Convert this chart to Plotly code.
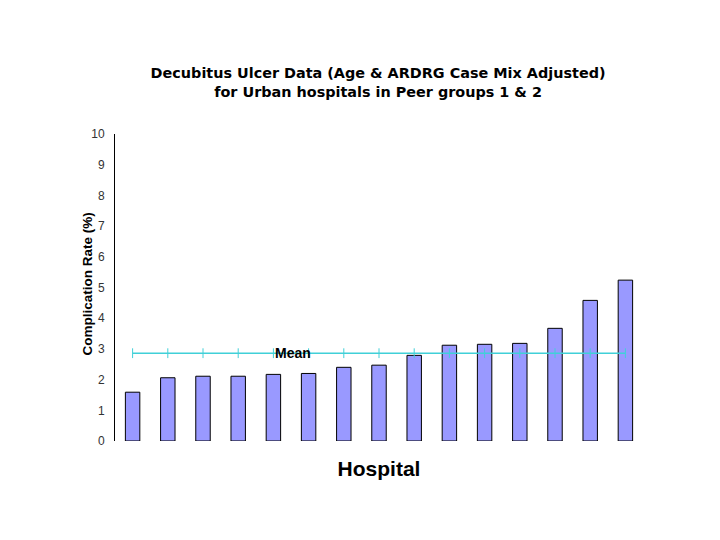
import plotly.graph_objects as go

# complication rate per hospital, sorted low to high
hospitals = list(range(1, 16))
rates = [1.59, 2.06, 2.11, 2.11, 2.17, 2.20, 2.40, 2.47, 2.79,
         3.12, 3.15, 3.18, 3.67, 4.58, 5.24]
mean_rate = 2.86
y_ticks = list(range(0, 11))

fig = go.Figure()
fig.add_trace(go.Bar(x=hospitals, y=rates, width=0.41,
                     marker=dict(color="#9999FF", line=dict(color="black", width=1))))
fig.add_trace(go.Scatter(x=hospitals, y=[mean_rate] * len(hospitals),
                         mode="lines+markers",
                         line=dict(color="#40D0D8", width=1.5),
                         marker=dict(symbol="line-ns-open", size=7,
                                     line=dict(color="#40D0D8", width=1))))

fig.add_annotation(x=5.55, y=mean_rate, text="<b>Mean</b>", showarrow=False,
                   font=dict(family="Liberation Sans", size=14, color="black"))

# y title placed by hand so it sits close to the tick labels
fig.add_annotation(xref="paper", yref="paper", x=-0.053, y=0.51, textangle=-90,
                   text="<b>Complication Rate (%)</b>", showarrow=False,
                   xanchor="center", yanchor="middle",
                   font=dict(family="Liberation Sans", size=13.5, color="black"))

fig.update_layout(
    width=720, height=540,
    margin=dict(l=107, r=85, t=126, b=107),
    plot_bgcolor="white", paper_bgcolor="white",
    showlegend=False,
    title=dict(text="<b>Decubitus Ulcer Data (Age & ARDRG Case Mix Adjusted)<br>for Urban hospitals in Peer groups 1 & 2</b>",
               x=0.514, xanchor="center", y=0.8706, yanchor="middle",
               font=dict(family="DejaVu Sans", size=14.4, color="black")),
    xaxis=dict(range=[0.5, 15.5], showticklabels=False, showgrid=False,
               zeroline=False, showline=False, automargin=False,
               title=dict(text="<b>Hospital</b>", standoff=20,
                          font=dict(family="Liberation Sans Narrow, Liberation Sans", size=21, color="black"))),
    yaxis=dict(range=[0, 10], tickvals=y_ticks, showgrid=False, zeroline=False,
               showline=True, linecolor="black", linewidth=1, ticks="",
               ticklabelstandoff=7, automargin=False,
               tickfont=dict(family="Liberation Sans", size=12, color="#333")),
)

fig.write_html("out.html")
